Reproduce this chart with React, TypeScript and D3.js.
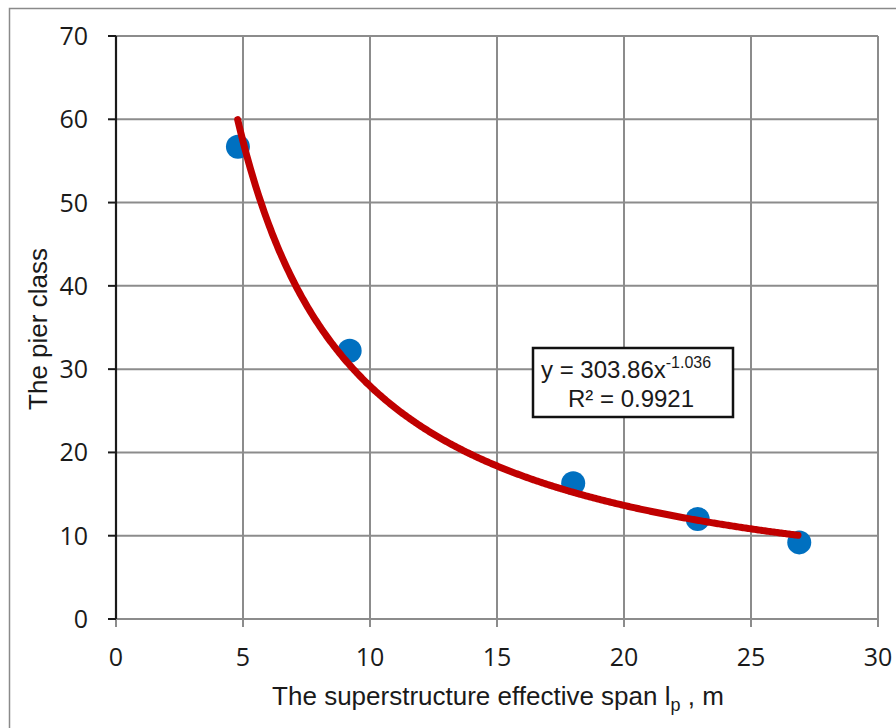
import React from "react";
import * as d3 from "d3";

const spanValues = [4.8, 9.2, 18.0, 22.9, 26.9];
const pierClass = [56.7, 32.2, 16.3, 12.0, 9.2];
const xTicks = [0, 5, 10, 15, 20, 25, 30];
const yTicks = [0, 10, 20, 30, 40, 50, 60, 70];
const trendCoef = 303.86;
const trendExp = -1.036;
const trendRange = [4.79, 26.85];
const eqText = "y = 303.86x";
const eqSup = "-1.036";
const r2Text = "R² = 0.9921";
const xTitle = "The superstructure effective span l";
const xTitleSub = "p";
const xTitleTail = " , m";
const yTitle = "The pier class";

export default function App() {
  const W = 896, H = 728;
  const x = d3.scaleLinear().domain([0, 30]).range([116, 878]);
  const y = d3.scaleLinear().domain([0, 70]).range([619, 36]);
  const trendXs = d3.range(trendRange[0], trendRange[1], 0.05).concat([trendRange[1]]);
  const line = d3
    .line<number>()
    .x((d) => x(d))
    .y((d) => y(trendCoef * Math.pow(d, trendExp)))
    .curve(d3.curveLinear);
  const tickFont = "'Open Sans', sans-serif";
  const titleFont = "'Liberation Sans', Arial, sans-serif";
  const grid = "#8c8c8c";
  return (
    <svg width={W} height={H} style={{ position: "absolute", left: 0, top: 0, background: "#fff" }}>
      <rect x={0} y={0} width={W} height={H} fill="#fff" />
      {/* outer frame */}
      <path d={`M9.5,${H} L9.5,8.5 L${W},8.5`} fill="none" stroke="#8a8a8a" strokeWidth={1.5} />
      {/* horizontal grid */}
      {yTicks.map((t) => (
        <line key={"hy" + t} x1={x(0)} x2={x(30)} y1={y(t)} y2={y(t)} stroke={grid} strokeWidth={2} />
      ))}
      {/* vertical grid */}
      {xTicks.map((t) => (
        <line key={"vx" + t} x1={x(t)} x2={x(t)} y1={y(70)} y2={y(0) + 8} stroke={grid} strokeWidth={2} />
      ))}
      {/* y axis */}
      <line x1={x(0)} x2={x(0)} y1={y(70)} y2={y(0)} stroke="#1a1a1a" strokeWidth={2.2} />
      {yTicks.map((t) => (
        <line key={"ty" + t} x1={x(0) - 8} x2={x(0)} y1={y(t)} y2={y(t)} stroke="#1a1a1a" strokeWidth={2} />
      ))}
      {yTicks.map((t) => (
        <text key={"ly" + t} x={88} y={y(t) + 9} textAnchor="end" fontFamily={tickFont} fontSize={25} fill="#1a1a1a">
          {t}
        </text>
      ))}
      {xTicks.map((t) => (
        <text key={"lx" + t} x={x(t)} y={666} textAnchor="middle" fontFamily={tickFont} fontSize={25} fill="#1a1a1a">
          {t}
        </text>
      ))}
      {/* data points */}
      {spanValues.map((v, i) => (
        <circle key={"p" + i} cx={x(v)} cy={y(pierClass[i])} r={12} fill="#0070C0" />
      ))}
      {/* trend line */}
      <path d={line(trendXs) || ""} fill="none" stroke="#C00000" strokeWidth={7} strokeLinecap="round" strokeLinejoin="round" />
      {/* equation box */}
      <rect x={533} y={348} width={200} height={69} fill="#fff" stroke="#111" strokeWidth={2.5} />
      <text x={541} y={378} fontFamily={titleFont} fontSize={24} fill="#1a1a1a">
        {eqText}
        <tspan fontSize={16} dy={-10}>{eqSup}</tspan>
      </text>
      <text x={631} y={407} textAnchor="middle" fontFamily={titleFont} fontSize={24} fill="#1a1a1a">
        {r2Text}
      </text>
      {/* axis titles */}
      <text x={498} y={705} textAnchor="middle" fontFamily={titleFont} fontSize={26} fill="#1a1a1a">
        {xTitle}
        <tspan fontSize={18} dy={6}>{xTitleSub}</tspan>
        <tspan dy={-6}>{xTitleTail}</tspan>
      </text>
      <text transform={`translate(47,329) rotate(-90)`} textAnchor="middle" fontFamily={titleFont} fontSize={26} fill="#1a1a1a">
        {yTitle}
      </text>
    </svg>
  );
}
